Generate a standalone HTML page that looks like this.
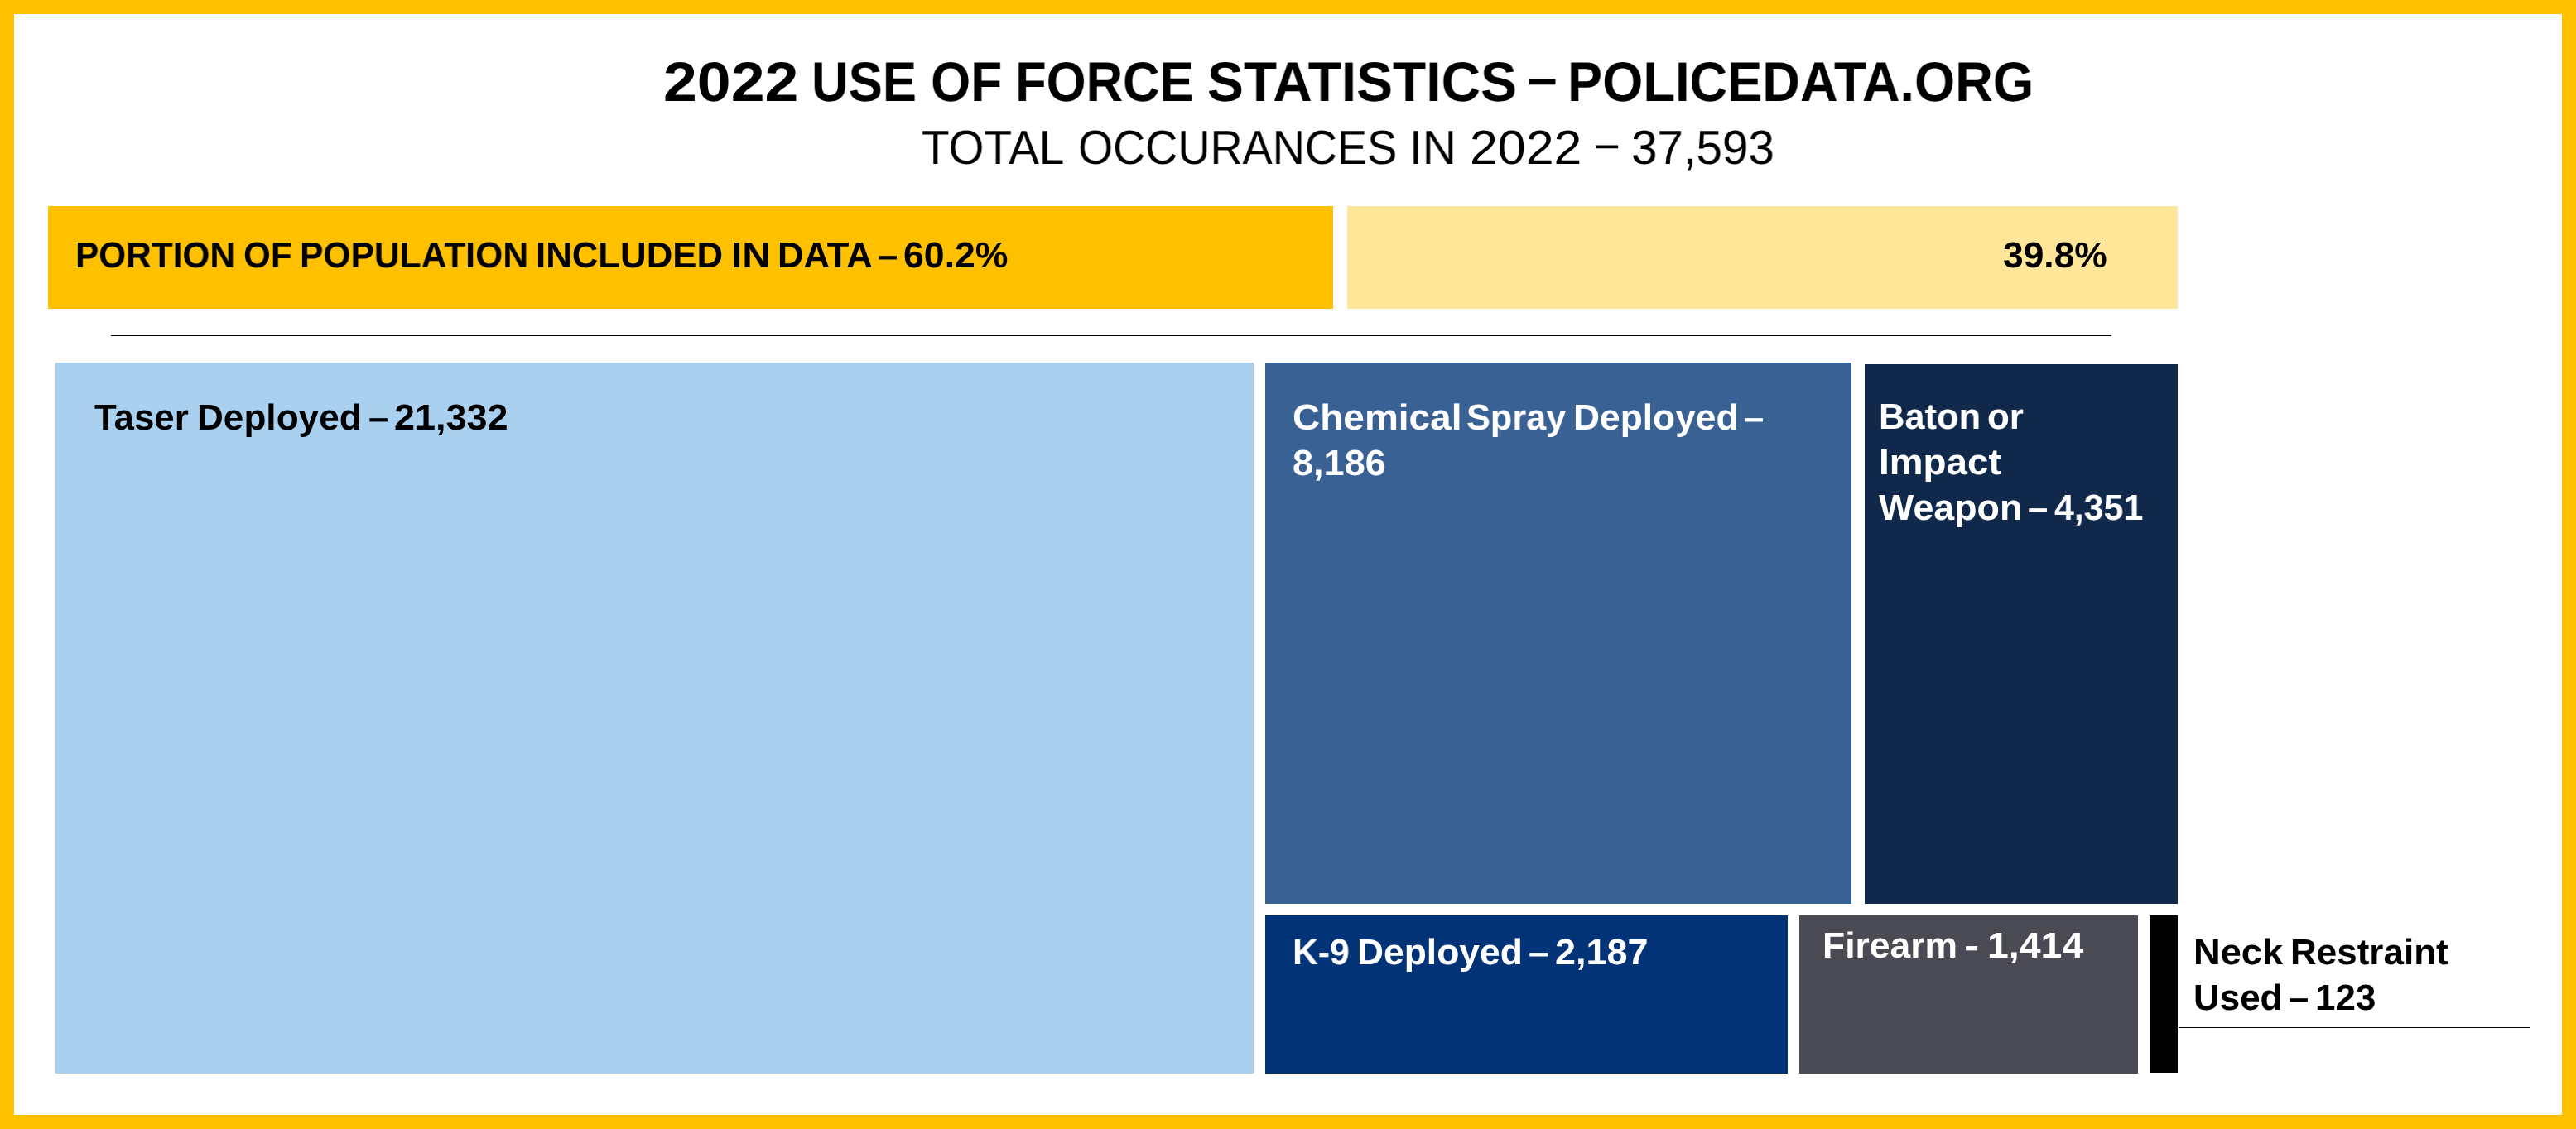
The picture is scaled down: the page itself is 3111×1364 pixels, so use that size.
<!DOCTYPE html>
<html><head><meta charset="utf-8"><style>
html,body{margin:0;padding:0;}
body{width:3111px;height:1364px;position:relative;overflow:hidden;background:#FFC000;font-family:"Liberation Sans",sans-serif;}
.in{position:absolute;left:17px;top:17px;width:3077px;height:1330px;background:#fff;}
.r{position:absolute;}
.t{position:absolute;white-space:nowrap;line-height:1;transform-origin:0 0;text-rendering:geometricPrecision;will-change:transform;}
.b{font-weight:bold;}
</style></head><body>
<div class="in"></div>
<div class="r" style="left:58px;top:249px;width:1552.00px;height:124.00px;background:#FFC000"></div>
<div class="r" style="left:1627px;top:249px;width:1003.00px;height:124.00px;background:#FFE699"></div>
<div class="r" style="left:133.5px;top:404.6px;width:2416.50px;height:1.60px;background:#000"></div>
<div class="r" style="left:67px;top:438px;width:1447.00px;height:859.00px;background:#AAD0F0"></div>
<div class="r" style="left:1528px;top:438px;width:708.00px;height:654.00px;background:#3A6193"></div>
<div class="r" style="left:2252px;top:440px;width:378.00px;height:652.00px;background:#10284A"></div>
<div class="r" style="left:1528px;top:1106px;width:631.00px;height:191.00px;background:#033377"></div>
<div class="r" style="left:2173px;top:1106px;width:409.00px;height:191.00px;background:#4A4A54"></div>
<div class="r" style="left:2596px;top:1106px;width:34.00px;height:190.00px;background:#000"></div>
<div class="r" style="left:2631px;top:1240.64px;width:425.00px;height:1.60px;background:#000"></div>
<div class="t b" style="left:800.80px;top:65.70px;font-size:67.44px;color:#000;transform:scaleX(1.0889)">2022</div>
<div class="t b" style="left:980.30px;top:65.70px;font-size:67.44px;color:#000;transform:scaleX(0.9154)">USE</div>
<div class="t b" style="left:1123.72px;top:65.70px;font-size:67.44px;color:#000;transform:scaleX(0.9191)">OF</div>
<div class="t b" style="left:1225.79px;top:65.70px;font-size:67.44px;color:#000;transform:scaleX(0.9137)">FORCE</div>
<div class="t b" style="left:1458.13px;top:65.70px;font-size:67.44px;color:#000;transform:scaleX(0.9750)">STATISTICS</div>
<div class="t b" style="left:1844.99px;top:61.10px;font-size:67.44px;color:#000;transform:scaleX(0.9460)">–</div>
<div class="t b" style="left:1892.58px;top:65.70px;font-size:67.44px;color:#000;transform:scaleX(0.9373)">POLICEDATA.ORG</div>
<div class="t" style="left:1112.90px;top:150.87px;font-size:57.91px;color:#000;transform:scaleX(0.9509)">TOTAL</div>
<div class="t" style="left:1301.79px;top:150.87px;font-size:57.91px;color:#000;transform:scaleX(0.9353)">OCCURANCES</div>
<div class="t" style="left:1701.87px;top:150.87px;font-size:57.91px;color:#000;transform:scaleX(0.9841)">IN</div>
<div class="t" style="left:1774.96px;top:150.87px;font-size:57.91px;color:#000;transform:scaleX(1.0508)">2022</div>
<div class="t" style="left:1926.60px;top:145.27px;font-size:57.91px;color:#000;transform:scaleX(0.8419)">–</div>
<div class="t" style="left:1969.74px;top:150.87px;font-size:57.91px;color:#000;transform:scaleX(0.9751)">37,593</div>
<div class="t b" style="left:91.04px;top:288.08px;font-size:43.61px;color:#000;transform:scaleX(0.9713)">PORTION</div>
<div class="t b" style="left:294.21px;top:288.08px;font-size:43.61px;color:#000;transform:scaleX(0.9663)">OF</div>
<div class="t b" style="left:361.82px;top:288.08px;font-size:43.61px;color:#000;transform:scaleX(0.9766)">POPULATION</div>
<div class="t b" style="left:647.24px;top:288.08px;font-size:43.61px;color:#000;transform:scaleX(1.0036)">INCLUDED</div>
<div class="t b" style="left:882.85px;top:288.08px;font-size:43.61px;color:#000;transform:scaleX(1.0986)">IN</div>
<div class="t b" style="left:939.26px;top:288.08px;font-size:43.61px;color:#000;transform:scaleX(0.9971)">DATA</div>
<div class="t b" style="left:1060.09px;top:288.08px;font-size:43.61px;color:#000;transform:scaleX(0.9999)">–</div>
<div class="t b" style="left:1090.62px;top:288.08px;font-size:43.61px;color:#000;transform:scaleX(1.0233)">60.2%</div>
<div class="t b" style="left:2418.97px;top:288.08px;font-size:43.61px;color:#000;transform:scaleX(1.0171)">39.8%</div>
<div class="t b" style="left:114.46px;top:484.08px;font-size:43.61px;color:#000;transform:scaleX(1.0057)">Taser</div>
<div class="t b" style="left:238.41px;top:484.08px;font-size:43.61px;color:#000;transform:scaleX(1.0120)">Deployed</div>
<div class="t b" style="left:445.01px;top:484.08px;font-size:43.61px;color:#000;transform:scaleX(0.9861)">–</div>
<div class="t b" style="left:476.25px;top:484.08px;font-size:43.61px;color:#000;transform:scaleX(1.0308)">21,332</div>
<div class="t b" style="left:1561.06px;top:484.08px;font-size:43.61px;color:#fff;transform:scaleX(1.0545)">Chemical</div>
<div class="t b" style="left:1770.50px;top:484.08px;font-size:43.61px;color:#fff;transform:scaleX(0.9918)">Spray</div>
<div class="t b" style="left:1899.80px;top:484.08px;font-size:43.61px;color:#fff;transform:scaleX(1.0167)">Deployed</div>
<div class="t b" style="left:2106.49px;top:484.08px;font-size:43.61px;color:#fff;transform:scaleX(0.9999)">–</div>
<div class="t b" style="left:1560.65px;top:539.08px;font-size:43.61px;color:#fff;transform:scaleX(1.0339)">8,186</div>
<div class="t b" style="left:2268.76px;top:483.08px;font-size:43.61px;color:#fff;transform:scaleX(0.9955)">Baton</div>
<div class="t b" style="left:2400.14px;top:483.08px;font-size:43.61px;color:#fff;transform:scaleX(1.0076)">or</div>
<div class="t b" style="left:2268.69px;top:538.08px;font-size:43.61px;color:#fff;transform:scaleX(1.0510)">Impact</div>
<div class="t b" style="left:2269.00px;top:593.08px;font-size:43.61px;color:#fff;transform:scaleX(1.0263)">Weapon</div>
<div class="t b" style="left:2449.39px;top:593.08px;font-size:43.61px;color:#fff;transform:scaleX(0.9999)">–</div>
<div class="t b" style="left:2480.94px;top:593.08px;font-size:43.61px;color:#fff;transform:scaleX(0.9835)">4,351</div>
<div class="t b" style="left:1561.01px;top:1130.08px;font-size:43.61px;color:#fff;transform:scaleX(0.9785)">K-9</div>
<div class="t b" style="left:1638.99px;top:1130.08px;font-size:43.61px;color:#fff;transform:scaleX(1.0178)">Deployed</div>
<div class="t b" style="left:1845.57px;top:1130.08px;font-size:43.61px;color:#fff;transform:scaleX(1.0182)">–</div>
<div class="t b" style="left:1877.55px;top:1130.08px;font-size:43.61px;color:#fff;transform:scaleX(1.0315)">2,187</div>
<div class="t b" style="left:2200.59px;top:1122.08px;font-size:43.61px;color:#fff;transform:scaleX(1.0184)">Firearm</div>
<div class="t b" style="left:2371.91px;top:1122.08px;font-size:43.61px;color:#fff;transform:scaleX(1.2567)">-</div>
<div class="t b" style="left:2399.71px;top:1122.08px;font-size:43.61px;color:#fff;transform:scaleX(1.0658)">1,414</div>
<div class="t b" style="left:2648.63px;top:1130.08px;font-size:43.61px;color:#000;transform:scaleX(1.0379)">Neck</div>
<div class="t b" style="left:2766.12px;top:1130.08px;font-size:43.61px;color:#000;transform:scaleX(1.0090)">Restraint</div>
<div class="t b" style="left:2648.56px;top:1185.08px;font-size:43.61px;color:#000;transform:scaleX(1.0073)">Used</div>
<div class="t b" style="left:2763.90px;top:1185.08px;font-size:43.61px;color:#000;transform:scaleX(0.9953)">–</div>
<div class="t b" style="left:2796.36px;top:1185.08px;font-size:43.61px;color:#000;transform:scaleX(1.0079)">123</div>
</body></html>
